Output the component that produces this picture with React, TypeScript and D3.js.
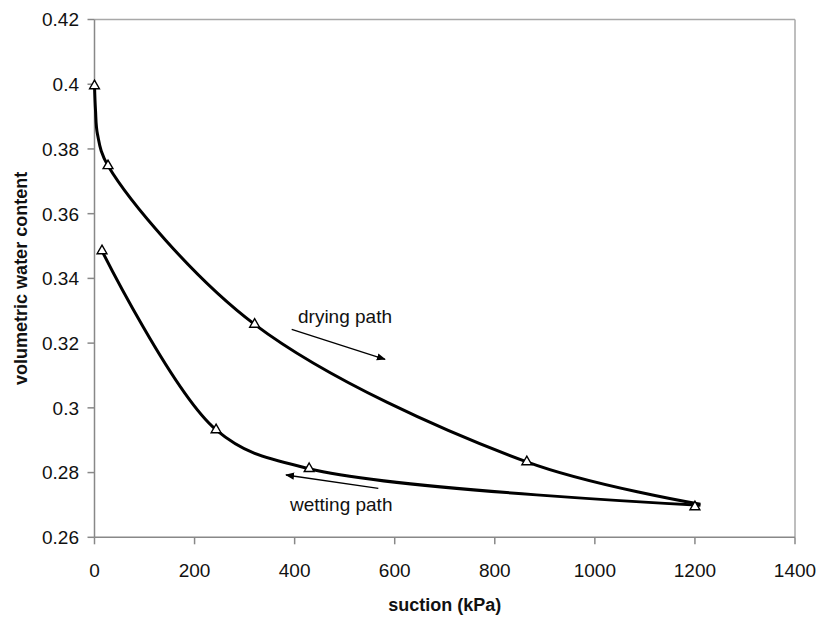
import React from 'react';
import * as d3 from 'd3';

// measured points (triangles)
const dryingMarkers: [number, number][] = [
  [0, 0.3995], [27, 0.3748], [320, 0.3258], [864, 0.2833], [1200, 0.2694],
];
const wettingMarkers: [number, number][] = [
  [15, 0.3485], [243, 0.2932], [429, 0.2812],
];

// smoothed curves
const dryingCurve: [number, number][] = [
  [0, 0.3995], [2, 0.392], [6, 0.3845], [27, 0.3748],
  [320, 0.3258], [864, 0.2833], [1211, 0.2702],
];
const wettingCurve: [number, number][] = [
  [15, 0.3485], [243, 0.2932], [429, 0.2812], [1211, 0.2699],
];

const xTicks = [0, 200, 400, 600, 800, 1000, 1200, 1400];
const yTicks = [0.26, 0.28, 0.3, 0.32, 0.34, 0.36, 0.38, 0.4, 0.42];

const W = 820;
const H = 623;
const font = 'Arial, "Liberation Sans", sans-serif';

export default function App() {
  const x = d3.scaleLinear().domain([0, 1400]).range([94.5, 795]);
  const y = d3.scaleLinear().domain([0.26, 0.42]).range([537.3, 19.5]);

  const line = d3.line<[number, number]>()
    .x(d => x(d[0]))
    .y(d => y(d[1]))
    .curve(d3.curveCatmullRom.alpha(0.5));

  const tri = d3.symbol().type(d3.symbolTriangle).size(42)()!;
  const fmtY = (v: number) => String(+v.toFixed(2));

  const x0 = x(0), x1 = x(1400), yTop = y(0.42), yBot = y(0.26);

  return (
    <svg width={W} height={H} style={{ position: 'absolute', left: 0, top: 0, background: '#fff' }}
      fontFamily={font}>
      <defs>
        <marker id="ah" viewBox="0 0 10 10" refX="9" refY="5" markerWidth="9" markerHeight="9"
          orient="auto-start-reverse" markerUnits="userSpaceOnUse">
          <path d="M0,1 L10,5 L0,9 z" fill="#000" />
        </marker>
      </defs>

      {/* plot frame */}
      <line x1={x0} x2={x1} y1={yTop} y2={yTop} stroke="#a8a8a8" strokeWidth={1.5} />
      <line x1={x1} x2={x1} y1={yTop} y2={yBot} stroke="#a8a8a8" strokeWidth={1.5} />
      <line x1={x0} x2={x0} y1={yTop} y2={yBot} stroke="#888" strokeWidth={1.5} />
      <line x1={x0} x2={x1} y1={yBot} y2={yBot} stroke="#888" strokeWidth={1.5} />

      {yTicks.map(t => (
        <g key={t}>
          <line x1={x0 - 7} x2={x0} y1={y(t)} y2={y(t)} stroke="#888" strokeWidth={1.5} />
          <text x={79} y={y(t)} dy="0.36em" textAnchor="end" fontSize={19} fill="#111">{fmtY(t)}</text>
        </g>
      ))}
      {xTicks.map(t => (
        <g key={t}>
          <line x1={x(t)} x2={x(t)} y1={yBot} y2={yBot + 7} stroke="#888" strokeWidth={1.5} />
          <text x={x(t)} y={577} textAnchor="middle" fontSize={19} fill="#111">{t}</text>
        </g>
      ))}

      <text x={(x0 + x1) / 2} y={611} textAnchor="middle" fontSize={18} fontWeight="bold" fill="#111">
        suction (kPa)
      </text>
      <text transform={`translate(27,${(yTop + yBot) / 2}) rotate(-90)`} textAnchor="middle"
        fontSize={18} fontWeight="bold" fill="#111">
        volumetric water content
      </text>

      <path d={line(dryingCurve) ?? ''} fill="none" stroke="#000" strokeWidth={3} />
      <path d={line(wettingCurve) ?? ''} fill="none" stroke="#000" strokeWidth={3} />

      {[...dryingMarkers, ...wettingMarkers].map((d, i) => (
        <path key={i} d={tri} transform={`translate(${x(d[0])},${y(d[1])})`}
          fill="#fff" stroke="#000" strokeWidth={1.4} />
      ))}

      {/* annotations */}
      <text x={298} y={322.6} fontSize={19} fill="#111">drying path</text>
      <line x1={291.7} y1={329.3} x2={385} y2={359.3} stroke="#000" strokeWidth={1.3} markerEnd="url(#ah)" />
      <text x={290} y={511} fontSize={19} fill="#111">wetting path</text>
      <line x1={378.3} y1={488.3} x2={286} y2={475} stroke="#000" strokeWidth={1.3} markerEnd="url(#ah)" />
    </svg>
  );
}
